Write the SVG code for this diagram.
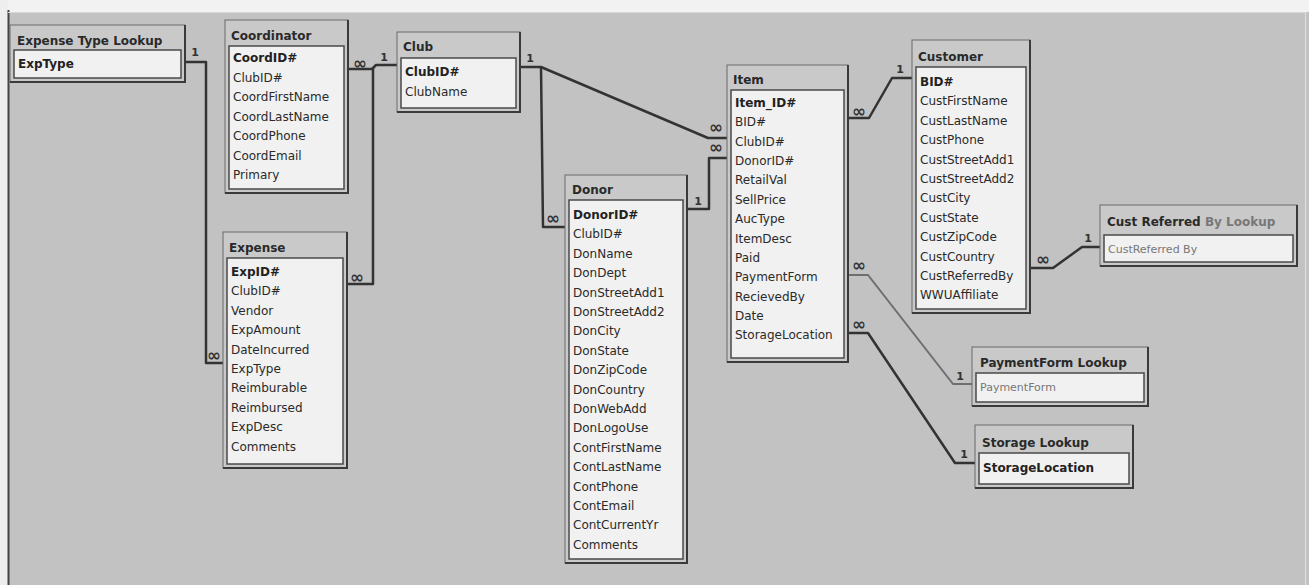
<svg xmlns="http://www.w3.org/2000/svg" width="1309" height="585" viewBox="0 0 1309 585">
<style>
.frame{fill:#c9c9c9;stroke:#6a6a6a;stroke-width:1}
.shadow{fill:none;stroke:#3a3a3a;stroke-width:2}
.fields{fill:#f1f1f1;stroke:#4a4a4a;stroke-width:1.5}
.title{font-family:"DejaVu Sans",Verdana,sans-serif;font-size:12px;font-weight:bold;fill:#2a2a2a}
.f{font-family:"DejaVu Sans",Verdana,sans-serif;font-size:12px;fill:#2a2a2a}
.k{font-family:"DejaVu Sans",Verdana,sans-serif;font-size:12px;font-weight:bold;fill:#222}
.g{font-family:"DejaVu Sans",Verdana,sans-serif;font-size:11px;fill:#777}
.link{fill:none;stroke:#333;stroke-width:2.5;stroke-linejoin:round}
.linkl{fill:none;stroke:#6e6e6e;stroke-width:2;stroke-linejoin:round}
.card{font-family:"DejaVu Sans",Verdana,sans-serif;font-size:11px;font-weight:bold;fill:#333;text-anchor:middle}
.inf{font-family:"DejaVu Sans",Verdana,sans-serif;font-size:17px;font-weight:bold;fill:#333;text-anchor:middle}
</style>
<rect x="0" y="0" width="1309" height="585" fill="#c2c2c2"/>
<rect x="0" y="0" width="1309" height="12" fill="#f2f2f2"/>
<rect x="0" y="0" width="8" height="585" fill="#eeeeee"/>
<line x1="8.5" y1="10" x2="8.5" y2="585" stroke="#444" stroke-width="2"/>
<line x1="8" y1="12.5" x2="1305" y2="12.5" stroke="#d8d8d8" stroke-width="1"/>
<line x1="1305.5" y1="12" x2="1305.5" y2="585" stroke="#e0e0e0" stroke-width="1"/>

<g id="connectors">
<path class="link" d="M185,62 H206 V363 H223"/>
<text class="card" x="195" y="56">1</text>
<text class="inf" x="214" y="361">∞</text>
<path class="link" d="M348,69 H372 L376,65 H397"/>
<text class="inf" x="360" y="69">∞</text>
<text class="card" x="384" y="61">1</text>
<path class="link" d="M347,284 H373 V68"/>
<text class="inf" x="357" y="283">∞</text>
<path class="link" d="M520,67 H541 L708,138 H727"/>
<text class="card" x="530" y="62">1</text>
<text class="inf" x="716" y="133">∞</text>
<path class="link" d="M541,67 L543,227 H565"/>
<text class="inf" x="553" y="224">∞</text>
<path class="link" d="M687,209 H709 V158 H727"/>
<text class="card" x="698" y="205">1</text>
<text class="inf" x="716" y="153">∞</text>
<path class="link" d="M848,118 H869 L892,78 H912"/>
<text class="inf" x="859" y="117">∞</text>
<text class="card" x="900" y="73">1</text>
<path class="linkl" d="M848,275 H868 L953,384 H972"/>
<text class="inf" x="859" y="271">∞</text>
<text class="card" x="960" y="380">1</text>
<path class="link" d="M848,333 H868 L955,463 H975"/>
<text class="inf" x="859" y="330">∞</text>
<text class="card" x="964" y="458">1</text>
<path class="link" d="M1030,268 H1053 L1082,247 H1100"/>
<text class="inf" x="1043" y="265">∞</text>
<text class="card" x="1088" y="242">1</text>
</g>

<g id="expense-type-lookup">
<rect class="frame" x="10" y="25" width="175" height="57"/>
<polyline class="shadow" points="185,25 185,82 10,82"/>
<text class="title" x="17" y="45">Expense Type Lookup</text>
<rect class="fields" x="14" y="50" width="167" height="28"/>
<text class="k" x="18" y="68">ExpType</text>
</g>

<g id="coordinator">
<rect class="frame" x="225" y="20" width="123" height="173"/>
<polyline class="shadow" points="348,20 348,193 225,193"/>
<text class="title" x="231" y="40">Coordinator</text>
<rect class="fields" x="229" y="46" width="115" height="143"/>
<text class="k" x="233" y="62">CoordID#</text>
<text class="f" x="233" y="81.5">ClubID#</text>
<text class="f" x="233" y="101">CoordFirstName</text>
<text class="f" x="233" y="120.5">CoordLastName</text>
<text class="f" x="233" y="140">CoordPhone</text>
<text class="f" x="233" y="159.5">CoordEmail</text>
<text class="f" x="233" y="179">Primary</text>
</g>

<g id="club">
<rect class="frame" x="397" y="32" width="123" height="80"/>
<polyline class="shadow" points="520,32 520,112 397,112"/>
<text class="title" x="403" y="51">Club</text>
<rect class="fields" x="401" y="58" width="115" height="50"/>
<text class="k" x="405" y="76">ClubID#</text>
<text class="f" x="405" y="96">ClubName</text>
</g>

<g id="expense">
<rect class="frame" x="223" y="232" width="124" height="236"/>
<polyline class="shadow" points="347,232 347,468 223,468"/>
<text class="title" x="229" y="252">Expense</text>
<rect class="fields" x="227" y="258" width="116" height="206"/>
<text class="k" x="231" y="276">ExpID#</text>
<text class="f" x="231" y="295.4">ClubID#</text>
<text class="f" x="231" y="314.8">Vendor</text>
<text class="f" x="231" y="334.2">ExpAmount</text>
<text class="f" x="231" y="353.6">DateIncurred</text>
<text class="f" x="231" y="373">ExpType</text>
<text class="f" x="231" y="392.4">Reimburable</text>
<text class="f" x="231" y="411.8">Reimbursed</text>
<text class="f" x="231" y="431.2">ExpDesc</text>
<text class="f" x="231" y="450.6">Comments</text>
</g>

<g id="donor">
<rect class="frame" x="565" y="175" width="122" height="388"/>
<polyline class="shadow" points="687,175 687,563 565,563"/>
<text class="title" x="572" y="194">Donor</text>
<rect class="fields" x="569" y="200" width="114" height="359"/>
<text class="k" x="573" y="219">DonorID#</text>
<text class="f" x="573" y="238.4">ClubID#</text>
<text class="f" x="573" y="257.8">DonName</text>
<text class="f" x="573" y="277.2">DonDept</text>
<text class="f" x="573" y="296.6">DonStreetAdd1</text>
<text class="f" x="573" y="316">DonStreetAdd2</text>
<text class="f" x="573" y="335.4">DonCity</text>
<text class="f" x="573" y="354.8">DonState</text>
<text class="f" x="573" y="374.2">DonZipCode</text>
<text class="f" x="573" y="393.6">DonCountry</text>
<text class="f" x="573" y="413">DonWebAdd</text>
<text class="f" x="573" y="432.4">DonLogoUse</text>
<text class="f" x="573" y="451.8">ContFirstName</text>
<text class="f" x="573" y="471.2">ContLastName</text>
<text class="f" x="573" y="490.6">ContPhone</text>
<text class="f" x="573" y="510">ContEmail</text>
<text class="f" x="573" y="529.4">ContCurrentYr</text>
<text class="f" x="573" y="548.8">Comments</text>
</g>

<g id="item">
<rect class="frame" x="727" y="65" width="121" height="297"/>
<polyline class="shadow" points="848,65 848,362 727,362"/>
<text class="title" x="733" y="84">Item</text>
<rect class="fields" x="731" y="90" width="113" height="268"/>
<text class="k" x="735" y="107">Item_ID#</text>
<text class="f" x="735" y="126.4">BID#</text>
<text class="f" x="735" y="145.7">ClubID#</text>
<text class="f" x="735" y="165.1">DonorID#</text>
<text class="f" x="735" y="184.4">RetailVal</text>
<text class="f" x="735" y="203.8">SellPrice</text>
<text class="f" x="735" y="223.1">AucType</text>
<text class="f" x="735" y="242.5">ItemDesc</text>
<text class="f" x="735" y="261.8">Paid</text>
<text class="f" x="735" y="281.2">PaymentForm</text>
<text class="f" x="735" y="300.5">RecievedBy</text>
<text class="f" x="735" y="319.9">Date</text>
<text class="f" x="735" y="339.2">StorageLocation</text>
</g>

<g id="customer">
<rect class="frame" x="912" y="40" width="118" height="273"/>
<polyline class="shadow" points="1030,40 1030,313 912,313"/>
<text class="title" x="918" y="61">Customer</text>
<rect class="fields" x="916" y="67" width="110" height="242"/>
<text class="k" x="920" y="86">BID#</text>
<text class="f" x="920" y="105.4">CustFirstName</text>
<text class="f" x="920" y="124.8">CustLastName</text>
<text class="f" x="920" y="144.2">CustPhone</text>
<text class="f" x="920" y="163.6">CustStreetAdd1</text>
<text class="f" x="920" y="183">CustStreetAdd2</text>
<text class="f" x="920" y="202.4">CustCity</text>
<text class="f" x="920" y="221.8">CustState</text>
<text class="f" x="920" y="241.2">CustZipCode</text>
<text class="f" x="920" y="260.6">CustCountry</text>
<text class="f" x="920" y="280">CustReferredBy</text>
<text class="f" x="920" y="299.4">WWUAffiliate</text>
</g>

<g id="cust-referred-by-lookup">
<rect class="frame" x="1100" y="205" width="197" height="61"/>
<polyline class="shadow" points="1297,205 1297,266 1100,266"/>
<text class="title" x="1107" y="226">Cust Referred <tspan fill="#777">By Lookup</tspan></text>
<rect class="fields" x="1104" y="235" width="189" height="27"/>
<text class="g" x="1108" y="253">CustReferred By</text>
</g>

<g id="paymentform-lookup">
<rect class="frame" x="972" y="347" width="176" height="59"/>
<polyline class="shadow" points="1148,347 1148,406 972,406"/>
<text class="title" x="980" y="367">PaymentForm Lookup</text>
<rect class="fields" x="976" y="373" width="168" height="29"/>
<text class="g" x="980" y="391">PaymentForm</text>
</g>

<g id="storage-lookup">
<rect class="frame" x="975" y="425" width="158" height="63"/>
<polyline class="shadow" points="1133,425 1133,488 975,488"/>
<text class="title" x="982" y="447">Storage Lookup</text>
<rect class="fields" x="979" y="453" width="150" height="31"/>
<text class="k" x="983" y="472">StorageLocation</text>
</g>
</svg>
